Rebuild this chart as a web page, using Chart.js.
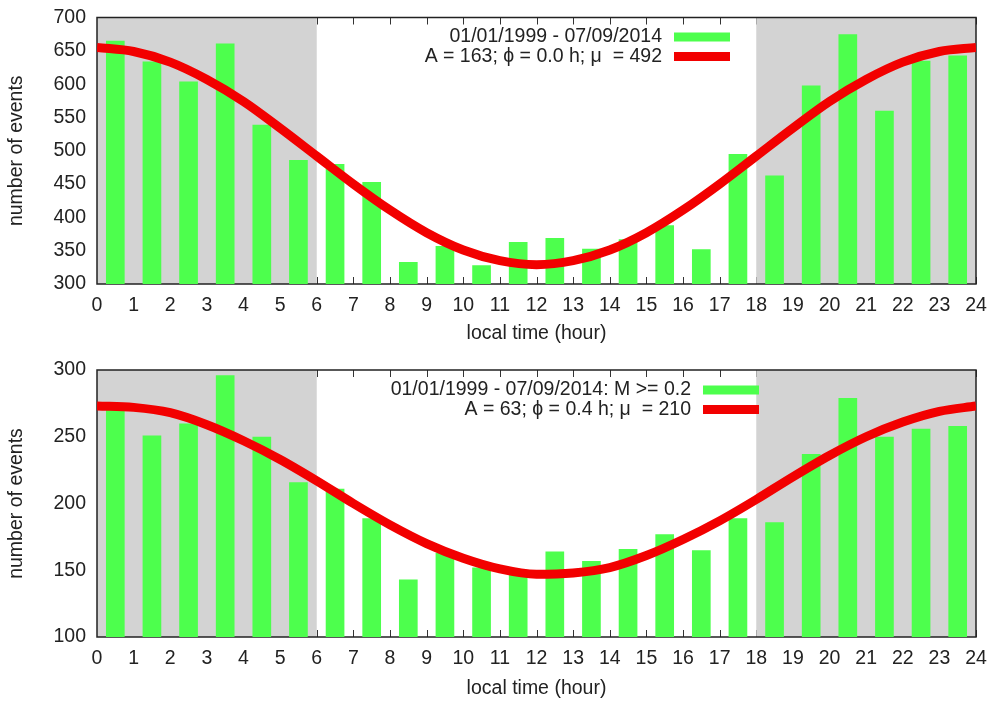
<!DOCTYPE html>
<html>
<head>
<meta charset="utf-8">
<script src="https://cdn.jsdelivr.net/npm/chart.js@4.4.1/dist/chart.umd.min.js"></script>
<style>
  body { margin: 0; background: #fff; }
  canvas { display: block; }
</style>
</head>
<body>
<canvas id="topChart" width="992" height="351"></canvas>
<canvas id="bottomChart" width="992" height="351"></canvas>
<script>
// hourly bins (bar centres) and the fitted curve sample hours
const barHours = [0.5, 1.5, 2.5, 3.5, 4.5, 5.5, 6.5, 7.5, 8.5, 9.5, 10.5, 11.5,
                  12.5, 13.5, 14.5, 15.5, 16.5, 17.5, 18.5, 19.5, 20.5, 21.5, 22.5, 23.5];
const fitHours = [0, 1, 2, 3, 4, 5, 6, 7, 8, 9, 10, 11, 12,
                  13, 14, 15, 16, 17, 18, 19, 20, 21, 22, 23, 24];

// all events 01/01/1999 - 07/09/2014
const allEvents = [665, 634, 604, 661, 539, 486, 480, 453, 333, 357, 328, 363,
                   369, 353, 367, 388, 352, 495, 463, 598, 675, 560, 635, 643];
const allFit = [655, 649, 633, 607, 574, 534, 492, 450, 411, 377, 351, 335, 329,
                335, 351, 377, 411, 450, 492, 534, 574, 607, 633, 649, 655];

// events with M >= 0.2
const strongEvents = [270, 251, 260, 296, 250, 216, 211, 189, 143, 163, 152, 149,
                      164, 157, 166, 177, 165, 189, 186, 237, 279, 250, 256, 258];
const strongFit = [273, 272, 268, 259, 247, 233, 217, 200, 184, 170, 159, 151, 147,
                   148, 152, 161, 173, 187, 203, 220, 236, 250, 261, 269, 273];

const nightBands = [[0, 6], [18, 24]];

const FONT = 'Liberation Sans, Arial, Helvetica, sans-serif';
const FSIZE = 19.5;
const GREEN = '#4dff4d';
const RED = '#f20000';

// grey night bands, inward ticks and the frame, drawn under the data
const framePlugin = {
  id: 'frame',
  beforeDatasetsDraw(chart) {
    const {ctx, chartArea: a, scales: {x}} = chart;
    ctx.save();
    ctx.strokeStyle = '#333';
    ctx.lineWidth = 1;
    x.ticks.forEach(t => {
      const px = Math.round(x.getPixelForValue(t.value)) + 0.5;
      ctx.beginPath();
      ctx.moveTo(px, a.bottom); ctx.lineTo(px, a.bottom - 7);
      ctx.moveTo(px, a.top); ctx.lineTo(px, a.top + 7);
      ctx.stroke();
    });
    ctx.fillStyle = '#d3d3d3';
    nightBands.forEach(([from, to]) => {
      const x0 = x.getPixelForValue(from), x1 = x.getPixelForValue(to);
      ctx.fillRect(x0, a.top, x1 - x0, a.bottom - a.top);
    });
    ctx.strokeStyle = '#222';
    ctx.lineWidth = 1.5;
    ctx.strokeRect(a.left, a.top, a.right - a.left, a.bottom - a.top);
    ctx.restore();
  },
  // gnuplot style key: text right aligned, sample line on the right
  afterDatasetsDraw(chart, args, opts) {
    const ctx = chart.ctx;
    ctx.save();
    ctx.font = FSIZE + 'px ' + FONT;
    ctx.textAlign = 'right';
    ctx.textBaseline = 'middle';
    chart.data.datasets.forEach((ds, i) => {
      const y = opts.top + i * 19.5;
      ctx.fillStyle = '#222';
      ctx.fillText(ds.label, opts.right, y);
      ctx.strokeStyle = ds.type === 'line' ? ds.borderColor : ds.backgroundColor;
      ctx.lineWidth = 9;
      ctx.beginPath();
      ctx.moveTo(opts.right + 12, y);
      ctx.lineTo(opts.right + 68, y);
      ctx.stroke();
    });
    ctx.restore();
  }
};

function makePanel(id, bars, fit, labels, yMin, yMax, p) {
  const ctx = document.getElementById(id);
  const font = { family: FONT, size: FSIZE };
  return new Chart(ctx, {
    type: 'bar',
    data: {
      datasets: [{
        label: labels[0],
        data: barHours.map((h, i) => ({x: h, y: bars[i]})),
        backgroundColor: GREEN,
        categoryPercentage: 1,
        barPercentage: 0.51,
        order: 2
      }, {
        type: 'line',
        label: labels[1],
        data: fitHours.map((h, i) => ({x: h, y: fit[i]})),
        borderColor: RED,
        borderWidth: 9,
        pointRadius: 0,
        cubicInterpolationMode: 'monotone',
        order: 1
      }]
    },
    options: {
      responsive: false,
      animation: false,
      layout: { padding: { top: p.top, right: 16, left: 0, bottom: 0 } },
      plugins: {
        legend: { display: false },
        tooltip: { enabled: false },
        frame: { right: p.keyRight, top: p.keyTop }
      },
      scales: {
        x: {
          type: 'linear',
          min: 0, max: 24,
          offset: false,
          grid: { display: false, drawTicks: false, offset: false },
          border: { display: false },
          ticks: { stepSize: 1, padding: 10, color: '#222', font, maxRotation: 0 },
          title: { display: true, text: 'local time (hour)', color: '#222',
                   font, padding: { bottom: p.titlePad, top: 0 } },
          afterFit: s => { s.height = p.xHeight; s.paddingLeft = 0; s.paddingRight = 0; }
        },
        y: {
          min: yMin, max: yMax,
          grid: { display: false, drawTicks: false },
          border: { display: false },
          ticks: { stepSize: 50, padding: 11, color: '#222', font },
          title: { display: true, text: 'number of events', color: '#222',
                   font, padding: { top: 5, bottom: 0 } },
          afterFit: s => { s.width = 97; s.paddingTop = 0; s.paddingBottom = 0; }
        }
      }
    },
    plugins: [framePlugin]
  });
}

makePanel('topChart', allEvents, allFit,
  ['01/01/1999 - 07/09/2014', 'A = 163; \u03D5 = 0.0 h; \u03BC  = 492'],
  300, 700, { top: 17.5, xHeight: 67, titlePad: 6, keyRight: 662, keyTop: 37 });

makePanel('bottomChart', strongEvents, strongFit,
  ['01/01/1999 - 07/09/2014: M >= 0.2', 'A = 63; \u03D5 = 0.4 h; \u03BC  = 210'],
  100, 300, { top: 19, xHeight: 65, titlePad: 2, keyRight: 691, keyTop: 39 });
</script>
</body>
</html>
